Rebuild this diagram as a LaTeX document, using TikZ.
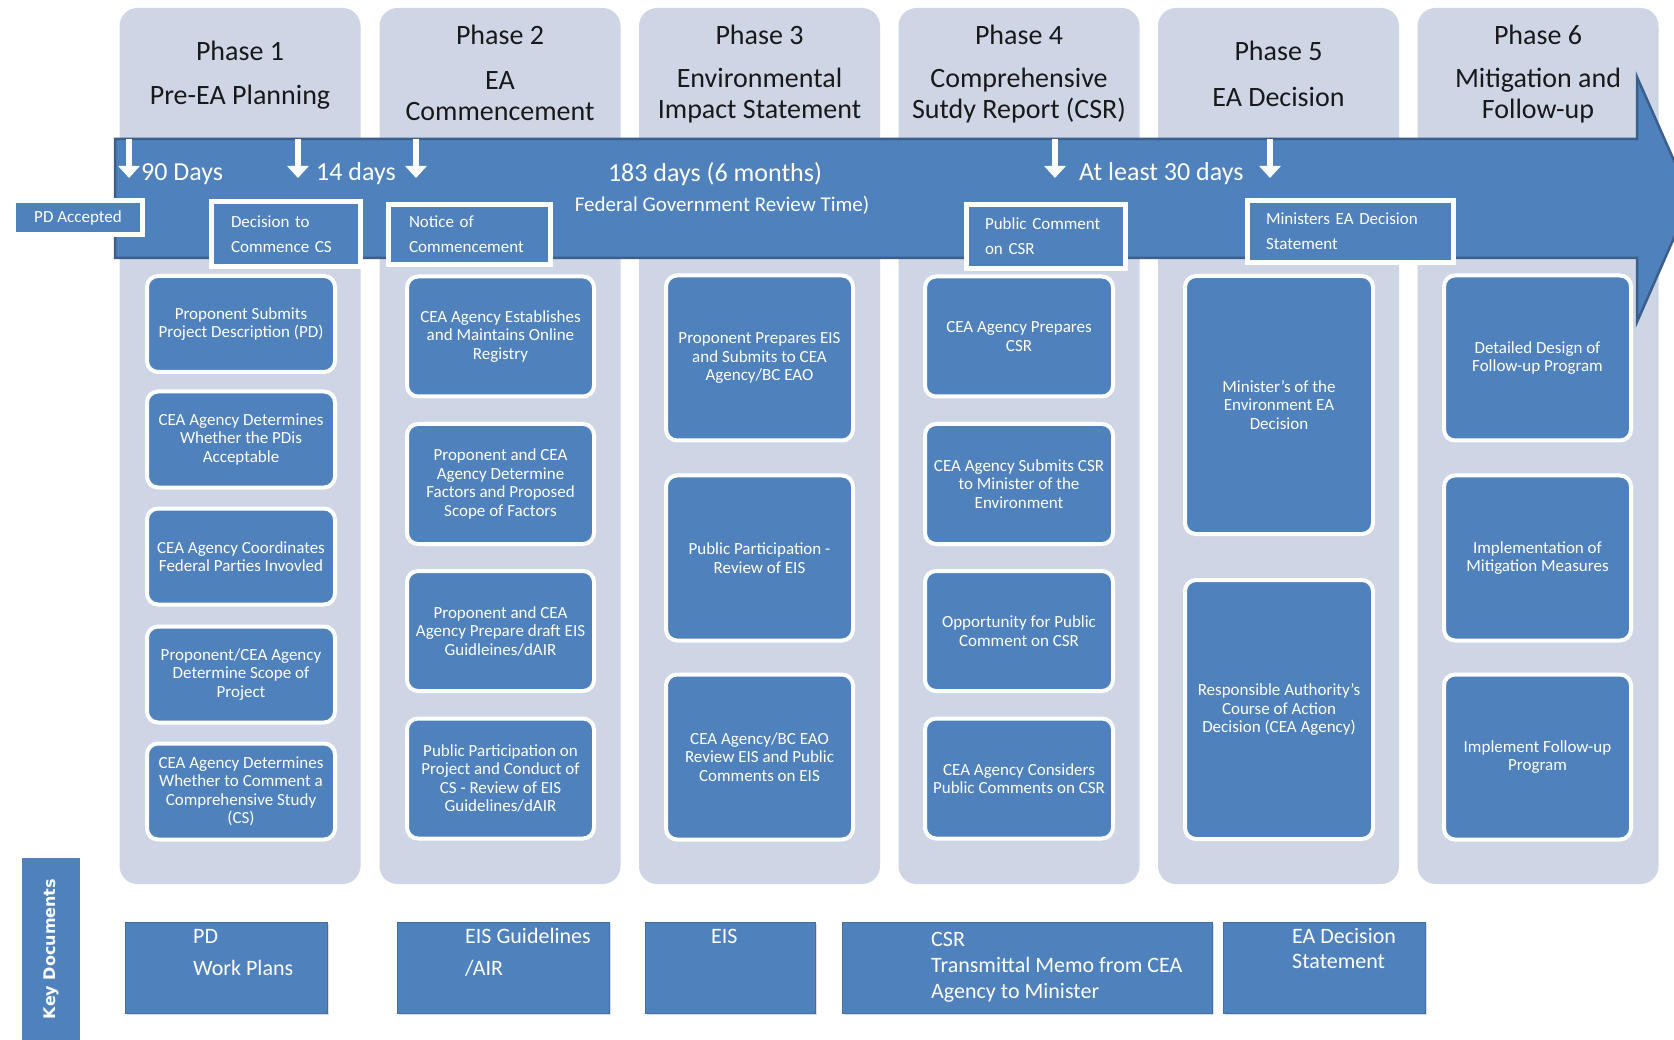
\documentclass[tikz,border=0pt]{standalone}
\usepackage{fontspec}
\setmainfont{Carlito}
\newfontfamily\keyfont{DejaVu Sans}
\usetikzlibrary{arrows.meta,shadows}
\definecolor{boxc}{RGB}{79,129,189}
\definecolor{panelc}{RGB}{206,213,229}
\definecolor{bandline}{RGB}{58,95,140}
\definecolor{titlec}{RGB}{25,25,25}
\begin{document}
\begin{tikzpicture}[x=1pt,y=-1pt,
  panel/.style={fill=panelc, rounded corners=18pt, minimum width=241pt, minimum height=876pt, inner sep=0pt},
  band/.style={fill=boxc, draw=bandline, line width=2.5pt, line join=miter},
  downarrow/.style={draw=white, line width=6pt, -{Triangle[width=21pt,length=12pt]}},
  bandtext/.style={text=white, inner sep=0pt, font=\fontsize{26}{30}\selectfont},
  titletext/.style={text=titlec, align=center, inner sep=0pt, font=\fontsize{28}{31}\selectfont},
  stepbox/.style={fill=boxc, draw=white, line width=4pt, rounded corners=11pt, text=white, align=center,
    inner sep=3pt, font=\fontsize{17}{18.5}\selectfont,
    drop shadow={shadow xshift=1pt, shadow yshift=-1pt, opacity=0.25}},
  tagbox/.style={fill=boxc, draw=white, line width=5pt, text=white, align=left, inner sep=0pt,
    font=\fontsize{17}{25}\selectfont,
    drop shadow={shadow xshift=2pt, shadow yshift=-2pt, opacity=0.3}},
  docbox/.style={fill=boxc, draw=boxc!85!black, line width=0.6pt, inner sep=0pt, minimum height=91pt,
    drop shadow={shadow xshift=1.5pt, shadow yshift=-1.5pt, opacity=0.25}},
  doctext/.style={text=white, align=left, inner sep=0pt, anchor=west},
  keybar/.style={fill=boxc, rotate=90, text=white, inner sep=0pt, minimum width=182pt, minimum height=58pt,
    font=\keyfont\bfseries\fontsize{16}{18}\selectfont}
]
\useasboundingbox (0,0) rectangle (1674,1040);
\clip (0,0) rectangle (1674,1040);
\fill[white] (0,0) rectangle (1674,1040);

% phase panels
\node[panel] (ph1) at (240,446) {};
\node[panel] (ph2) at (500,446) {};
\node[panel] (ph3) at (759.5,446) {};
\node[panel] (ph4) at (1019,446) {};
\node[panel] (ph5) at (1278.5,446) {};
\node[panel] (ph6) at (1538,446) {};

% titles
\node[titletext] (p1t) at (240,51) {Phase 1};
\node[titletext] (p1s) at (240,97) {Pre-EA Planning};
\node[titletext] (p2t) at (500,35) {Phase 2};
\node[titletext] (p2s) at (500,96) {EA\\Commencement};
\node[titletext] (p3t) at (759.5,35) {Phase 3};
\node[titletext] (p3s) at (759.5,96) {Environmental\\Impact Statement};
\node[titletext] (p4t) at (1019,35) {Phase 4};
\node[titletext] (p4s) at (1019,96) {Comprehensive\\Sutdy Report (CSR)};
\node[titletext] (p5t) at (1278.5,51) {Phase 5};
\node[titletext] (p5s) at (1278.5,97) {EA Decision};
\node[titletext] (p6t) at (1538,35) {Phase 6};
\node[titletext] (p6s) at (1538,96) {Mitigation and\\Follow-up};

% timeline band
\path[band] (115,139) -- (1637,139) -- (1637,77) -- (1691,199) -- (1637,322) -- (1637,258) -- (115,258) -- cycle;

% down arrows
\coordinate (a1s) at (129,139); \coordinate (a1e) at (129,178);
\coordinate (a2s) at (298,139); \coordinate (a2e) at (298,178);
\coordinate (a3s) at (416,139); \coordinate (a3e) at (416,178);
\coordinate (a4s) at (1055,139); \coordinate (a4e) at (1055,178);
\coordinate (a5s) at (1270,139); \coordinate (a5e) at (1270,178);
\draw[downarrow] (a1s) -- (a1e);
\draw[downarrow] (a2s) -- (a2e);
\draw[downarrow] (a3s) -- (a3e);
\draw[downarrow] (a4s) -- (a4e);
\draw[downarrow] (a5s) -- (a5e);

% band labels
\node[bandtext, anchor=west] (l90) at (141,174) {90 Days};
\node[bandtext, anchor=west] (l14) at (316,174) {14 days};
\node[bandtext] (l183) at (715,174) {183 days (6 months)};
\node[bandtext, font=\fontsize{21}{24}\selectfont] (lfed) at (722,205) {Federal Government Review Time)};
\node[bandtext, anchor=west] (l30) at (1079,174) {At least 30 days};

% step boxes phase 1
\node[stepbox, minimum width=188pt, minimum height=96pt] (s11) at (241,324) {Proponent Submits\\Project Description (PD)};
\node[stepbox, minimum width=188pt, minimum height=96pt] (s12) at (241,439.5) {CEA Agency Determines\\Whether the PDis\\Acceptable};
\node[stepbox, minimum width=188pt, minimum height=96pt] (s13) at (241,556.5) {CEA Agency Coordinates\\Federal Parties Invovled};
\node[stepbox, minimum width=188pt, minimum height=96pt] (s14) at (241,674.5) {Proponent/CEA Agency\\Determine Scope of\\Project};
\node[stepbox, minimum width=188pt, minimum height=96pt] (s15) at (241,791.5) {CEA Agency Determines\\Whether to Comment a\\Comprehensive Study\\(CS)};

% phase 2
\node[stepbox, minimum width=187pt, minimum height=120pt] (s21) at (500.5,336.5) {CEA Agency Establishes\\and Maintains Online\\Registry};
\node[stepbox, minimum width=187pt, minimum height=120pt] (s22) at (500.5,484) {Proponent and CEA\\Agency Determine\\Factors and Proposed\\Scope of Factors};
\node[stepbox, minimum width=187pt, minimum height=120pt] (s23) at (500.5,631) {Proponent and CEA\\Agency Prepare draft EIS\\Guidleines/dAIR};
\node[stepbox, minimum width=187pt, minimum height=120pt] (s24) at (500.5,778.5) {Public Participation on\\Project and Conduct of\\CS - Review of EIS\\Guidelines/dAIR};

% phase 3
\node[stepbox, minimum width=187pt, minimum height=165pt] (s31) at (759.5,358) {Proponent Prepares EIS\\and Submits to CEA\\Agency/BC EAO};
\node[stepbox, minimum width=187pt, minimum height=165pt] (s32) at (759.5,558) {Public Participation -\\Review of EIS};
\node[stepbox, minimum width=187pt, minimum height=165pt] (s33) at (759.5,757) {CEA Agency/BC EAO\\Review EIS and Public\\Comments on EIS};

% phase 4
\node[stepbox, minimum width=188pt, minimum height=120pt] (s41) at (1019,336.5) {CEA Agency Prepares\\CSR};
\node[stepbox, minimum width=188pt, minimum height=120pt] (s42) at (1019,484) {CEA Agency Submits CSR\\to Minister of the\\Environment};
\node[stepbox, minimum width=188pt, minimum height=120pt] (s43) at (1019,631) {Opportunity for Public\\Comment on CSR};
\node[stepbox, minimum width=188pt, minimum height=120pt] (s44) at (1019,778.5) {CEA Agency Considers\\Public Comments on CSR};

% phase 5
\node[stepbox, minimum width=188pt, minimum height=258pt] (s51) at (1279,405) {Minister's of the\\Environment EA\\Decision};
\node[stepbox, minimum width=188pt, minimum height=259pt] (s52) at (1279,709.5) {Responsible Authority's\\Course of Action\\Decision (CEA Agency)};

% phase 6
\node[stepbox, minimum width=187pt, minimum height=165pt] (s61) at (1537.5,358) {Detailed Design of\\Follow-up Program};
\node[stepbox, minimum width=187pt, minimum height=165pt] (s62) at (1537.5,558) {Implementation of\\Mitigation Measures};
\node[stepbox, minimum width=187pt, minimum height=165pt] (s63) at (1537.5,757) {Implement Follow-up\\Program};

% milestone tags on the band
\node[tagbox, align=center, minimum width=129pt, minimum height=34pt] (pda) at (78,217.5) {PD Accepted};
\node[tagbox, minimum width=149pt, minimum height=65pt, text width=110pt] (dcc) at (286,234) {Decision to\\Commence CS};
\node[tagbox, minimum width=162pt, minimum height=60pt, text width=121pt] (noc) at (469.5,234.5) {Notice of\\Commencement};
\node[tagbox, minimum width=159pt, minimum height=64pt, text width=122pt] (pcc) at (1046,236.5) {Public Comment\\on CSR};
\node[tagbox, minimum width=206pt, minimum height=62pt, text width=169pt] (med) at (1350.5,231.5) {Ministers EA Decision\\Statement};

% key documents
\node[keybar] (kd) at (51,949) {Key Documents};
\node[docbox, minimum width=202pt] (d1) at (226,967.5) {};
\node[docbox, minimum width=212pt] (d2) at (503,967.5) {};
\node[docbox, minimum width=170pt] (d3) at (730,967.5) {};
\node[docbox, minimum width=370pt] (d4) at (1027,967.5) {};
\node[docbox, minimum width=202pt] (d5) at (1324,967.5) {};
\node[doctext, font=\fontsize{22}{32}\selectfont] (d1t) at (193,953) {PD\\Work Plans};
\node[doctext, font=\fontsize{22}{32}\selectfont] (d2t) at (465,952.5) {EIS Guidelines\\/AIR};
\node[doctext, font=\fontsize{22}{26}\selectfont] (d3t) at (711,936) {EIS};
\node[doctext, font=\fontsize{22}{26}\selectfont] (d4t) at (931,967) {CSR\\Transmittal Memo from CEA\\Agency to Minister};
\node[doctext, font=\fontsize{22}{25}\selectfont] (d5t) at (1292,948.5) {EA Decision\\Statement};
\end{tikzpicture}
\end{document}
